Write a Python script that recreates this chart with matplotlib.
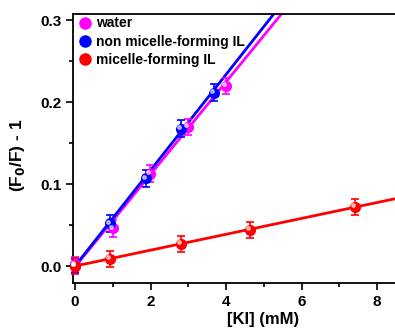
import numpy as np
import matplotlib
matplotlib.use("Agg")
import matplotlib.pyplot as plt
from matplotlib.ticker import MultipleLocator, FixedLocator

plt.rcParams["font.family"] = ["Liberation Sans", "DejaVu Sans"]
plt.rcParams["font.weight"] = "bold"

# ---------------------------------------------------
# Data
# ---------------------------------------------------
water_x = [0.0, 1.0, 1.99, 3.0, 4.0]
water_y = [0.002, 0.046, 0.113, 0.170, 0.220]
water_err = [0.009, 0.010, 0.010, 0.010, 0.010]

nonmic_x = [0.0, 0.93, 1.88, 2.81, 3.68]
nonmic_y = [0.0, 0.052, 0.107, 0.168, 0.212]
nonmic_err = [0.009, 0.010, 0.010, 0.010, 0.010]

mic_x = [0.0, 0.93, 2.81, 4.64, 7.42]
mic_y = [0.0, 0.0085, 0.027, 0.044, 0.072]
mic_err = [0.010, 0.010, 0.010, 0.010, 0.010]

# linear fits (slope, intercept)
water_fit = (0.0565, -0.001)
nonmic_fit = (0.0585, 0.0)
mic_fit = (0.0097, 0.0)

x_ticks = [0, 2, 4, 6, 8]
labels = ["water", "non micelle-forming IL", "micelle-forming IL"]
colors = ["#ff00ff", "#0000ff", "#ff0000"]

# ---------------------------------------------------
# Plot
# ---------------------------------------------------
fig = plt.figure(figsize=(3.95, 3.28), dpi=100)
# axes run past the right edge of the picture (cropped original)
ax = fig.add_axes([0.1848, 0.1372, 0.961, 0.8216])

series = [
    (water_x, water_y, water_err, water_fit),
    (nonmic_x, nonmic_y, nonmic_err, nonmic_fit),
    (mic_x, mic_y, mic_err, mic_fit),
]

xfit = np.linspace(0, 10, 100)
for (x, y, err, fit), col in zip(series, colors):
    ax.plot(xfit, fit[0] * xfit + fit[1], color=col, lw=2, zorder=2)
for (x, y, err, fit), col, lab in zip(series, colors, labels):
    ax.errorbar(x, y, yerr=err, fmt="o", color=col, ms=7, capsize=3,
                elinewidth=1.2, capthick=1.2, zorder=3, clip_on=False)
    # highlight to mimic sphere markers
    ax.plot(np.array(x) - 0.05, np.array(y) + 0.002, "o", color="white",
            ms=2.5, alpha=0.6, zorder=4, clip_on=False)
    ax.plot([], [], "o", color=col, ms=8, label=lab)

ax.set_xlim(-0.053, 10)
ax.set_ylim(-0.0207, 0.3085)
ax.xaxis.set_major_locator(FixedLocator(x_ticks))
ax.xaxis.set_minor_locator(FixedLocator([1, 3, 5, 7]))
ax.yaxis.set_major_locator(MultipleLocator(0.1))
ax.yaxis.set_minor_locator(MultipleLocator(0.05))
ax.tick_params(which="both", direction="out", width=1.2, labelsize=11)
ax.tick_params(which="major", length=5)
ax.tick_params(which="minor", length=3)
ax.spines["right"].set_visible(False)
for s in ["left", "bottom", "top"]:
    ax.spines[s].set_linewidth(1.3)

ax.set_xlabel("[KI] (mM)", fontsize=12, fontweight="bold", labelpad=2)
ax.set_ylabel("(F$_\\mathbf{0}$/F) - 1", fontsize=12.5, fontweight="bold")
ax.yaxis.set_label_coords(-0.121, 0.475)

handles, labs = ax.get_legend_handles_labels()
ax.legend(handles[-3:], labs[-3:], loc="upper left", frameon=False,
          bbox_to_anchor=(-0.005, 1.01),
          prop={"weight": "bold", "size": 10}, handletextpad=0.2,
          borderaxespad=0.0, labelspacing=0.3, handlelength=1.2)

fig.savefig("out.png", dpi=100)
